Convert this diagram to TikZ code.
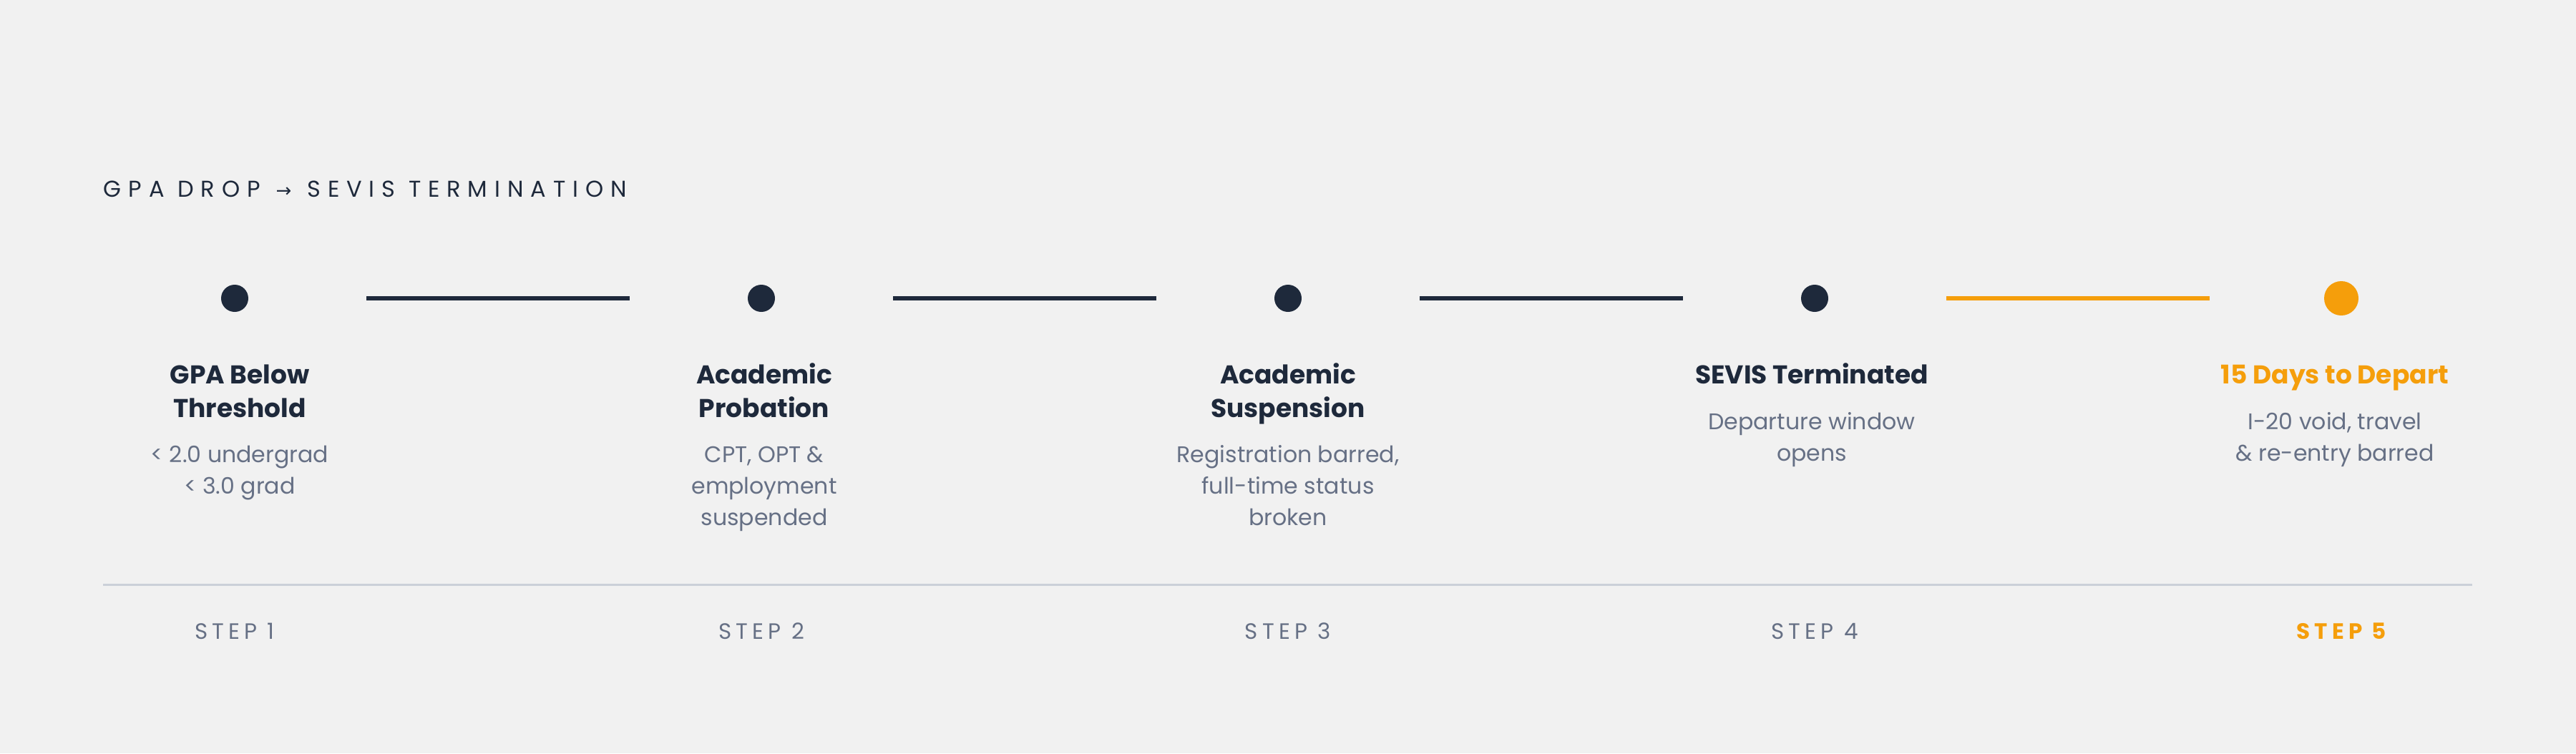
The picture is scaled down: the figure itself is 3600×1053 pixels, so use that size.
\documentclass[tikz,border=0pt]{standalone}
\usepackage{fontspec}
\setmainfont{Poppins}
\newfontfamily\trackfont{Poppins}[LetterSpace=31]
\newfontfamily\steptrack{Poppins}[LetterSpace=20]
\newfontfamily\arrowfont{DejaVu Sans}
\definecolor{bg}{HTML}{F1F1F1}
\definecolor{navy}{HTML}{1E293B}
\definecolor{muted}{HTML}{667085}
\definecolor{amber}{HTML}{F59E0B}
\definecolor{rulec}{HTML}{CBD0D8}
\begin{document}
\begin{tikzpicture}[x=0.25pt,y=-0.25pt,
  dot/.style={circle, fill=navy, draw=none, minimum size=9.5pt, inner sep=0pt},
  hotdot/.style={dot, fill=amber, minimum size=12pt},
  conn/.style={draw=navy, line width=1.5pt, shorten <=46pt, shorten >=46pt},
  hotconn/.style={conn, draw=amber},
  ttl/.style={anchor=north, inner sep=0pt, align=center, text=navy,
    font=\bfseries\fontsize{9}{11.625}\selectfont},
  hotttl/.style={ttl, text=amber},
  dsc/.style={anchor=north, inner sep=0pt, align=center, text=muted,
    font=\fontsize{7.9}{11}\selectfont},
  stp/.style={anchor=base, inner sep=0pt, text=muted,
    font=\steptrack\fontsize{7.75}{9}\selectfont},
  hotstp/.style={stp, text=amber, font=\steptrack\bfseries\fontsize{7.75}{9}\selectfont},
  head/.style={anchor=base west, inner sep=0pt, text=navy,
    font=\trackfont\fontsize{8}{10}\selectfont},
  baseline/.style={draw=rulec, line width=0.75pt}
]
\fill[bg] (0,0) rectangle (3600,1053);
\useasboundingbox (0,0) rectangle (3600,1053);

\node[head] (title) at (144,275) {GPA DROP\hspace{5.5pt}{\arrowfont\fontsize{6.5}{8}\selectfont →}\hspace{5.5pt}SEVIS TERMINATION};

\node[dot] (d1) at (328,417) {};
\node[dot] (d2) at (1064,417) {};
\node[dot] (d3) at (1800,417) {};
\node[dot] (d4) at (2536,417) {};
\node[hotdot] (d5) at (3272,417) {};

\draw[conn] (d1.center) -- (d2.center);
\draw[conn] (d2.center) -- (d3.center);
\draw[conn] (d3.center) -- (d4.center);
\draw[hotconn] (d4.center) -- (d5.center);

\node[ttl] (t1) at (335,500) {\rule{0pt}{9pt}GPA Below\\Threshold};
\node[ttl] (t2) at (1068,500) {\rule{0pt}{9pt}Academic\\Probation};
\node[ttl] (t3) at (1800,500) {\rule{0pt}{9pt}Academic\\Suspension};
\node[ttl] (t4) at (2532,500) {\rule{0pt}{9pt}SEVIS Terminated};
\node[hotttl] (t5) at (3263,500) {\rule{0pt}{9pt}15 Days to Depart};

\node[dsc] (s1) at (335,614) {\rule{0pt}{7.9pt}< 2.0 undergrad\\< 3.0 grad};
\node[dsc] (s2) at (1068,614) {\rule{0pt}{7.9pt}CPT, OPT \&\\employment\\suspended};
\node[dsc] (s3) at (1800,614) {\rule{0pt}{7.9pt}Registration barred,\\full-time status\\broken};
\node[dsc] (s4) at (2532,568) {\rule{0pt}{7.9pt}Departure window\\opens};
\node[dsc] (s5) at (3263,568) {\rule{0pt}{7.9pt}I-20 void, travel\\\& re-entry barred};

\coordinate (rl) at (144,817);
\coordinate (rr) at (3455,817);
\draw[baseline] (rl) -- (rr);

\node[stp] (l1) at (328,893) {STEP 1};
\node[stp] (l2) at (1064,893) {STEP 2};
\node[stp] (l3) at (1800,893) {STEP 3};
\node[stp] (l4) at (2536,893) {STEP 4};
\node[hotstp] (l5) at (3272,893) {STEP 5};
\end{tikzpicture}
\end{document}
